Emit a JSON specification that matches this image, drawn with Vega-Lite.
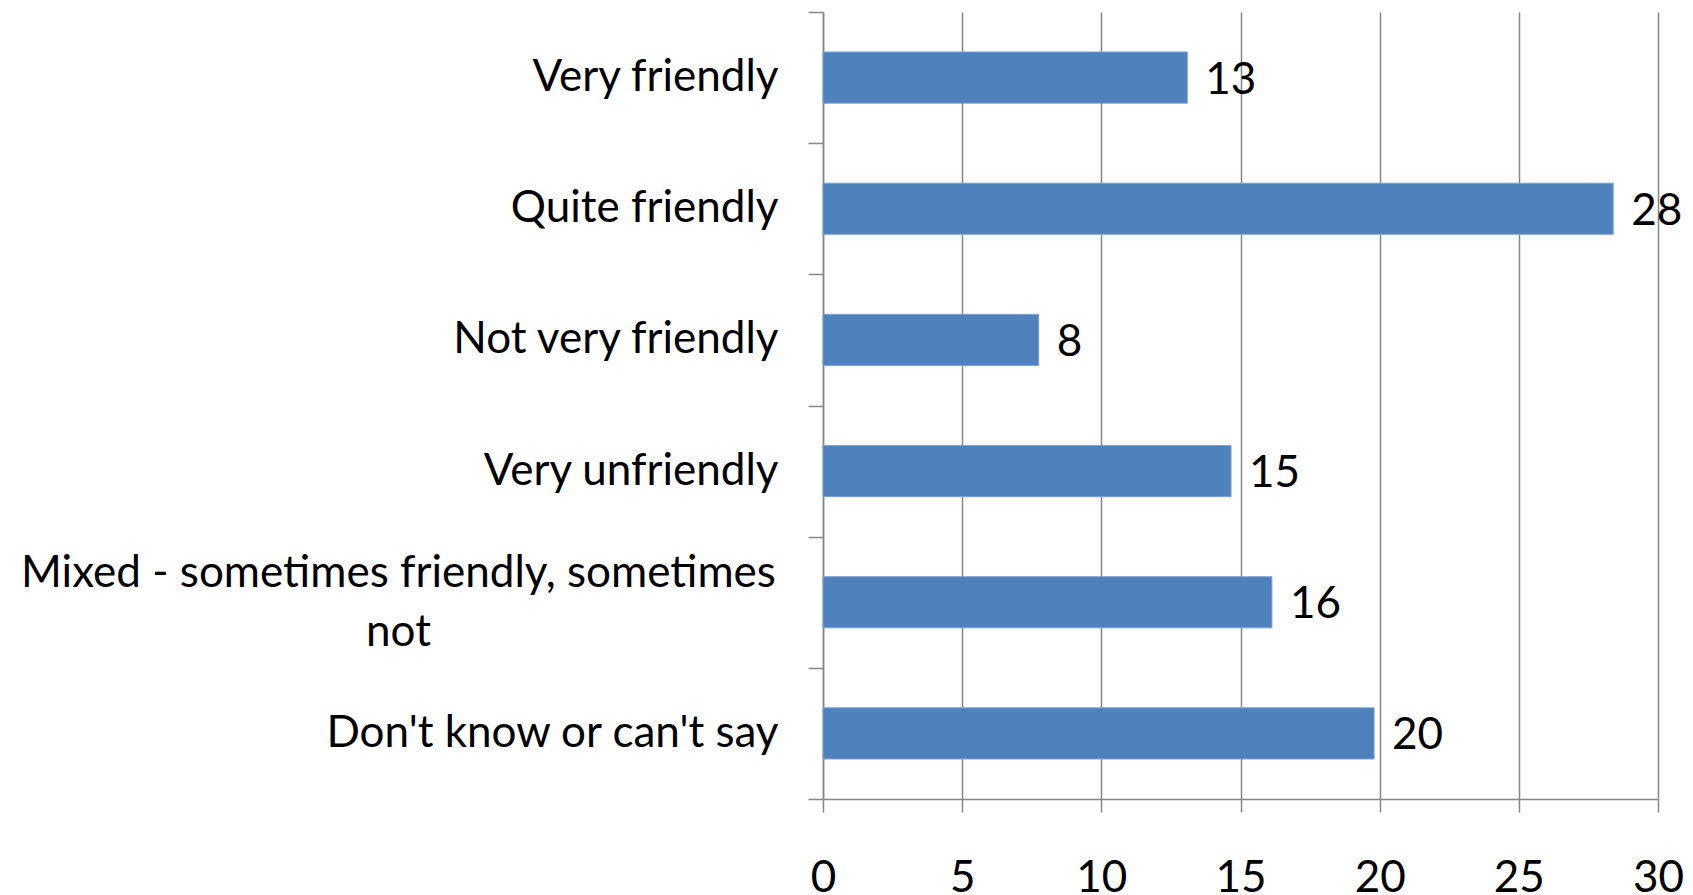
{
  "$schema": "https://vega.github.io/schema/vega-lite/v6.json",
  "autosize": "none",
  "width": 835,
  "height": 787,
  "padding": {"left": 823, "top": 12, "right": 35, "bottom": 96},
  "background": "white",
  "data": {
    "values": [
      {"category": "Very friendly", "value": 13.09},
      {"category": "Quite friendly", "value": 28.39},
      {"category": "Not very friendly", "value": 7.75},
      {"category": "Very unfriendly", "value": 14.66},
      {"category": "Mixed - sometimes friendly, sometimes not", "value": 16.13},
      {"category": "Don't know or can't say", "value": 19.8}
    ]
  },
  "config": {
    "view": {"stroke": null},
    "font": "Lato",
    "axis": {
      "labelFont": "Lato",
      "labelFontSize": 44,
      "labelColor": "#000000",
      "domainColor": "#868686",
      "tickColor": "#868686",
      "gridColor": "#868686",
      "domainWidth": 1.5,
      "tickWidth": 1.5,
      "gridWidth": 1.5
    }
  },
  "encoding": {
    "y": {
      "field": "category",
      "type": "nominal",
      "sort": null,
      "scale": {"paddingInner": 0, "paddingOuter": 0},
      "axis": {
        "title": null,
        "tickBand": "extent",
        "tickSize": 15,
        "labelPadding": {"condition": {"test": "datum.value == 'Mixed - sometimes friendly, sometimes not'", "value": 410}, "value": 30},
        "labelAlign": {"condition": {"test": "datum.value == 'Mixed - sometimes friendly, sometimes not'", "value": "center"}, "value": "right"},
        "labelOffset": {"condition": {"test": "datum.value == 'Mixed - sometimes friendly, sometimes not'", "value": -29}, "value": 0},
        "labelLineHeight": 59,
        "labelLimit": 900,
        "labelExpr": "datum.value == 'Mixed - sometimes friendly, sometimes not' ? ['Mixed - sometimes friendly, sometimes', 'not'] : datum.value"
      }
    }
  },
  "layer": [
    {
      "mark": {"type": "bar", "color": "#4F81BD", "stroke": "#7EA2D2", "strokeWidth": 1, "height": {"band": 0.39}},
      "encoding": {
        "x": {
          "field": "value",
          "type": "quantitative",
          "scale": {"domain": [0, 30], "nice": false},
          "axis": {
            "title": null,
            "values": [0, 5, 10, 15, 20, 25, 30],
            "grid": true,
            "tickSize": 13,
            "labelPadding": 44,
            "labelFlush": false
          }
        }
      }
    },
    {
      "mark": {"type": "text", "align": "left", "baseline": "middle", "dx": 18, "dy": 3, "fontSize": 44, "font": "Lato", "color": "#000000"},
      "encoding": {
        "x": {"field": "value", "type": "quantitative"},
        "text": {"field": "value", "type": "quantitative", "format": ".0f"}
      }
    }
  ]
}
